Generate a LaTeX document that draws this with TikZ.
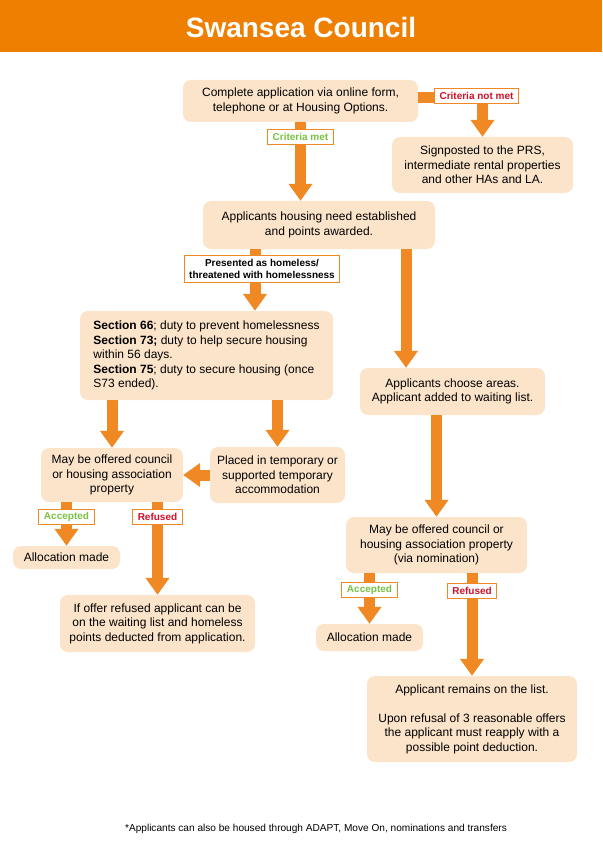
\documentclass[tikz,border=0pt]{standalone}
\usepackage{fontspec}
\setmainfont{Liberation Sans}
\usetikzlibrary{arrows.meta}
\definecolor{headorange}{RGB}{238,127,0}
\definecolor{floworange}{RGB}{240,137,35}
\definecolor{boxfill}{RGB}{252,228,203}
\definecolor{metgreen}{RGB}{122,193,67}
\definecolor{notred}{RGB}{208,17,43}
\begin{document}
\begin{tikzpicture}[x=1pt,y=-1pt,
    box/.style={fill=boxfill, rounded corners=8pt, align=center, inner sep=0pt,
        font=\fontsize{12}{14.5}\selectfont},
    flow/.style={draw=floworange, line width=11pt, line join=miter,
        -{Triangle[width=23pt,length=17pt]}},
    tag/.style={fill=white, draw=floworange, line width=1pt, inner xsep=5pt,
        inner ysep=2pt, minimum height=15pt, font=\bfseries\fontsize{10}{12}\selectfont}]
    \useasboundingbox (0,0) rectangle (602,850);

    % header
    \fill[headorange] (0,0) rectangle (602,52);
    \node[text=white, font=\bfseries\fontsize{28}{32}\selectfont] (title) at (301,27) {Swansea Council};

    % boxes
    \node[box, minimum width=235pt, minimum height=42pt] (apply) at (300.5,101)
        {Complete application via online form,\\telephone or at Housing Options.};
    \node[box, minimum width=181pt, minimum height=56pt] (sign) at (482.5,165)
        {Signposted to the PRS,\\intermediate rental properties\\and other HAs and LA.};
    \node[box, minimum width=232pt, minimum height=48pt] (need) at (319,225)
        {Applicants housing need established\\and points awarded.};
    \node[box, align=left, minimum width=253pt, minimum height=89pt] (duty) at (206.5,355.5)
        {\textbf{Section 66}; duty to prevent homelessness\\
         \textbf{Section 73;} duty to help secure housing\\
         within 56 days.\\
         \textbf{Section 75}; duty to secure housing (once\\
         S73 ended).};
    \node[box, minimum width=185pt, minimum height=47pt] (areas) at (452.5,391.5)
        {Applicants choose areas.\\Applicant added to waiting list.};
    \node[box, minimum width=142pt, minimum height=54pt] (offer) at (112,475)
        {May be offered council\\or housing association\\property};
    \node[box, minimum width=135pt, minimum height=56pt] (temp) at (277.5,475)
        {Placed in temporary or\\supported temporary\\accommodation};
    \node[box, minimum width=107pt, minimum height=23pt] (alloc1) at (66.5,557.5)
        {Allocation made};
    \node[box, minimum width=195pt, minimum height=57pt] (refusedL) at (157.5,623.5)
        {If offer refused applicant can be\\on the waiting list and homeless\\points deducted from application.};
    \node[box, minimum width=181pt, minimum height=56pt] (nomin) at (436.5,545)
        {May be offered council or\\housing association property\\(via nomination)};
    \node[box, minimum width=107pt, minimum height=27pt] (alloc2) at (369.5,637.5)
        {Allocation made};
    \node[box, minimum width=210pt, minimum height=86pt] (remain) at (472,719)
        {Applicant remains on the list.\\[14.5pt]Upon refusal of 3 reasonable offers\\the applicant must reapply with a\\possible point deduction.};

    % arrows
    \draw[flow] (apply.south) -- (apply.south |- need.north)
        node[tag, text=metgreen, pos=0.19] {Criteria met};
    \draw[flow] ([yshift=3pt]apply.east) -| (sign.north)
        node[tag, text=notred, pos=0.5, xshift=-6pt, yshift=2pt] {Criteria not met};
    \draw[flow] ([xshift=-64pt]need.south) -- ([xshift=-64pt]need.south |- duty.north)
        node[tag, align=center, inner ysep=4pt, pos=0.32, xshift=7pt] {Presented as homeless/\\threatened with homelessness};
    \draw[flow] ([xshift=87pt]need.south) -- ([xshift=87pt]need.south |- areas.north);
    \draw[flow] (offer.north |- duty.south) -- (offer.north);
    \draw[flow] (temp.north |- duty.south) -- (temp.north);
    \draw[flow] (temp.west) -- (offer.east);
    \draw[flow] (alloc1.north |- offer.south) -- (alloc1.north)
        node[tag, text=metgreen, pos=0.33] {Accepted};
    \draw[flow] (refusedL.north |- offer.south) -- (refusedL.north)
        node[tag, text=notred, pos=0.16] {Refused};
    \draw[flow] (nomin.north |- areas.south) -- (nomin.north);
    \draw[flow] (alloc2.north |- nomin.south) -- (alloc2.north)
        node[tag, text=metgreen, pos=0.33] {Accepted};
    \draw[flow] (remain.north |- nomin.south) -- (remain.north)
        node[tag, text=notred, pos=0.17] {Refused};

    % footnote
    \node[font=\fontsize{10.1}{12}\selectfont] (note) at (316,829)
        {*Applicants can also be housed through ADAPT, Move On, nominations and transfers};
\end{tikzpicture}
\end{document}
